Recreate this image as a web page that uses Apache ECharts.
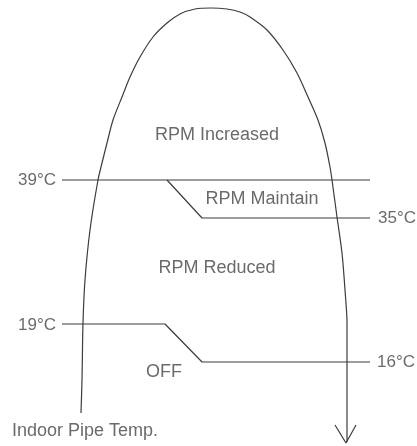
<!DOCTYPE html>
<html>
<head>
<meta charset="utf-8">
<script src="https://cdn.jsdelivr.net/npm/echarts@6/dist/echarts.min.js"></script>
<style>
html,body{margin:0;padding:0;background:#fff;}
#chart{width:417px;height:446px;}
</style>
</head>
<body>
<div id="chart"></div>
<script>
// Diagram coordinates (x to the right, y downward)
const curveX = [81, 82, 83, 85, 90, 98, 102, 107, 113, 122, 130, 140, 153, 167, 180, 195, 211, 227, 240, 250, 267, 283, 297, 308, 318, 325, 330, 332, 337, 342, 345, 347, 347, 347];
const curveY = [413, 380, 323, 280, 230, 180, 163, 143, 120, 97, 77, 57, 37, 23, 14, 9, 8, 9, 12, 17, 30, 50, 73, 97, 120, 143, 167, 180, 217, 253, 290, 323, 362, 442];
const arrowX = [335, 346, 356];
const arrowY = [425, 443, 425];
const upperLineX = [62, 370];
const upperLineY = [180, 180];
const maintainLineX = [167, 202, 370];
const maintainLineY = [180, 218, 218];
const offLineX = [62, 165, 202, 370];
const offLineY = [324, 324, 362, 362];
const regionLabels = ['RPM Increased', 'RPM Maintain', 'RPM Reduced', 'OFF'];
const regionLabelX = [217, 262, 217, 164];
const regionLabelY = [135, 199, 268, 372];
const tempLabels = ['39°C', '35°C', '19°C', '16°C'];
const tempLabelX = [37, 397, 37, 396];
const tempLabelY = [180, 218, 325, 362];
const axisTitle = ['Indoor Pipe Temp.'];
const axisTitleX = [85];
const axisTitleY = [431];

const zip = (xs, ys) => xs.map((x, i) => [x, ys[i]]);
const lineColor = '#3c3c3c';
const textColor = '#454545';
const font = 'Liberation Sans, Arial, Helvetica, sans-serif';

function lineSeries(xs, ys, smooth) {
  return {
    type: 'line', data: zip(xs, ys), smooth: smooth || false, symbol: 'none',
    lineStyle: { color: lineColor, width: 1.2 }, silent: true, animation: false
  };
}
function textSeries(labels, xs, ys, size) {
  return {
    type: 'scatter', symbolSize: 0, silent: true, animation: false,
    data: labels.map((t, i) => ({ value: [xs[i], ys[i]], name: t })),
    label: {
      show: true, position: 'inside', formatter: p => p.name,
      color: textColor, fontSize: size, fontFamily: font
    }
  };
}

const chart = echarts.init(document.getElementById('chart'));
chart.setOption({
  backgroundColor: '#fff',
  animation: false,
  grid: { left: 0, right: 0, top: 0, bottom: 0 },
  xAxis: { type: 'value', min: 0, max: 417, show: false },
  yAxis: { type: 'value', min: 0, max: 446, inverse: true, show: false },
  series: [
    lineSeries(curveX, curveY, 0.3),
    lineSeries(arrowX, arrowY),
    lineSeries(upperLineX, upperLineY),
    lineSeries(maintainLineX, maintainLineY),
    lineSeries(offLineX, offLineY),
    textSeries(regionLabels, regionLabelX, regionLabelY, 18),
    textSeries(tempLabels, tempLabelX, tempLabelY, 17),
    textSeries(axisTitle, axisTitleX, axisTitleY, 18)
  ]
});
</script>
</body>
</html>
